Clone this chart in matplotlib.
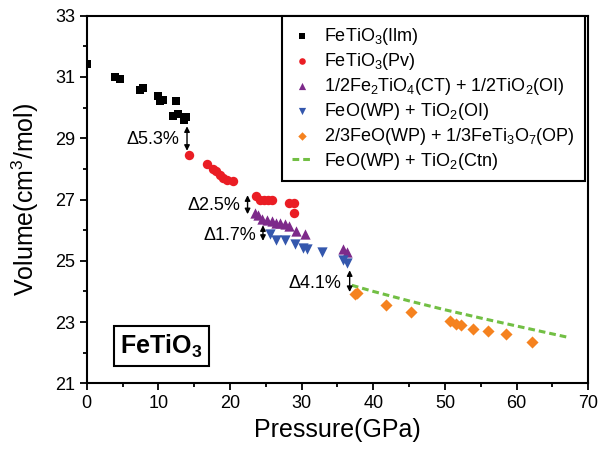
import matplotlib
matplotlib.use("Agg")
import matplotlib.pyplot as plt
from matplotlib.ticker import MultipleLocator

plt.rcParams["font.family"] = ["Liberation Sans", "DejaVu Sans"]
plt.rcParams["mathtext.fontset"] = "custom"
plt.rcParams["mathtext.rm"] = "Liberation Sans"
plt.rcParams["mathtext.bf"] = "Liberation Sans:bold"
plt.rcParams["mathtext.default"] = "regular"

# FeTiO3 ilmenite
ilm_p = [0.0, 4.0, 4.65, 7.45, 7.8, 10.0, 10.2, 10.7, 12.45, 12.0, 12.8, 13.6, 13.85]
ilm_v = [31.42, 31.0, 30.92, 30.57, 30.64, 30.38, 30.22, 30.25, 30.2, 29.74, 29.79, 29.61, 29.70]

# FeTiO3 perovskite
pv_p = [14.3, 16.8, 17.6, 18.1, 18.6, 19.05, 19.6, 20.4, 23.6, 24.2, 24.7, 25.3, 25.9, 28.3, 28.9, 28.9]
pv_v = [28.45, 28.15, 28.01, 27.93, 27.79, 27.69, 27.63, 27.61, 27.11, 27.0, 26.98, 27.0, 27.0, 26.87, 26.87, 26.56]

# 1/2Fe2TiO4(CT) + 1/2TiO2(OI)
ct_p = [23.5, 23.9, 24.5, 25.2, 25.8, 26.4, 27.0, 27.7, 28.3, 29.2, 30.4, 35.8, 36.3]
ct_v = [26.56, 26.49, 26.38, 26.32, 26.30, 26.24, 26.24, 26.19, 26.13, 25.97, 25.89, 25.37, 25.29]

# FeO(WP) + TiO2(OI)
wp_p = [25.6, 26.4, 27.7, 29.05, 30.2, 30.7, 32.8, 35.8, 36.3]
wp_v = [25.87, 25.69, 25.67, 25.56, 25.43, 25.37, 25.29, 25.01, 24.93]

# 2/3FeO(WP) + 1/3FeTi3O7(OP)
op_p = [37.4, 37.75, 41.8, 45.3, 50.7, 51.6, 52.3, 53.9, 56.0, 58.5, 62.2]
op_v = [23.9, 23.95, 23.55, 23.33, 23.03, 22.92, 22.89, 22.76, 22.71, 22.60, 22.34]

# FeO(WP) + TiO2(Ctn) curve
ctn_p = [37.0, 40.0, 45.0, 50.0, 55.0, 60.0, 67.0]
ctn_v = [24.20, 24.00, 23.69, 23.40, 23.13, 22.87, 22.51]

# volume jumps: (label, label x, label y, arrow x, arrow top, arrow bottom)
jumps = [
    ("Δ5.3%", 13.0, 28.97, 14.0, 29.39, 28.59),
    ("Δ2.5%", 21.4, 26.81, 22.45, 27.14, 26.52),
    ("Δ1.7%", 23.6, 25.83, 24.6, 26.16, 25.65),
    ("Δ4.1%", 35.6, 24.26, 36.7, 24.69, 23.98),
]

yticks = [21, 23, 25, 27, 29, 31, 33]

fig = plt.figure(figsize=(6.14, 4.54), dpi=100)
ax = fig.add_axes([0.1412, 0.1557, 0.8169, 0.8097])

ax.scatter(ilm_p, ilm_v, marker="s", s=34, color="black", lw=0,
           label=r"FeTiO$_3$(Ilm)", zorder=3)
ax.scatter(pv_p, pv_v, marker="o", s=46, color="#ea1d24", lw=0,
           label=r"FeTiO$_3$(Pv)", zorder=3)
ax.scatter(ct_p, ct_v, marker="^", s=55, color="#7d2a8a", lw=0,
           label=r"1/2Fe$_2$TiO$_4$(CT) + 1/2TiO$_2$(OI)", zorder=3)
ax.scatter(wp_p, wp_v, marker="v", s=55, color="#3457ad", lw=0,
           label=r"FeO(WP) + TiO$_2$(OI)", zorder=3)
ax.scatter(op_p, op_v, marker="D", s=38, color="#f5821f", lw=0,
           label=r"2/3FeO(WP) + 1/3FeTi$_3$O$_7$(OP)", zorder=3)
ax.plot(ctn_p, ctn_v, "--", color="#72bf44", lw=2.2, dashes=(2.2, 1.3),
        label=r"FeO(WP) + TiO$_2$(Ctn)", zorder=2)

for txt, tx, ty, axp, vtop, vbot in jumps:
    ax.text(tx, ty, txt, ha="right", va="center", fontsize=13)
    ax.annotate("", xy=(axp, vbot), xytext=(axp, vtop),
                arrowprops=dict(arrowstyle="<|-|>", color="black", lw=1.0,
                                mutation_scale=8, shrinkA=0, shrinkB=0))

ax.text(10.4, 22.22, r"FeTiO$_3$", ha="center", va="center", fontsize=18,
        fontweight="bold",
        bbox=dict(boxstyle="square,pad=0.25", fc="white", ec="black", lw=1.5))

ax.set_xlim(0, 70)
ax.set_ylim(21, 33)
ax.xaxis.set_major_locator(MultipleLocator(10))
ax.xaxis.set_minor_locator(MultipleLocator(5))
ax.set_yticks(yticks)
ax.set_yticks([v + 1 for v in yticks[:-1]], minor=True)
ax.tick_params(which="both", direction="out", width=1.3, labelsize=13,
               top=False, right=False)
ax.tick_params(which="major", length=5)
ax.tick_params(which="minor", length=3)
for sp in ax.spines.values():
    sp.set_linewidth(1.5)

ax.set_xlabel("Pressure(GPa)", fontsize=18, labelpad=4)
ax.set_ylabel(r"Volume(cm$^3$/mol)", fontsize=18, labelpad=10)

leg = ax.legend(loc="upper right", bbox_to_anchor=(0.993, 1.0),
                borderaxespad=0, fontsize=13, frameon=True, fancybox=False,
                edgecolor="black", framealpha=1, handlelength=1.2,
                handletextpad=0.6, labelspacing=0.22, borderpad=0.55,
                markerscale=0.7)
leg.get_frame().set_linewidth(1.5)

fig.savefig("out.png", dpi=100)
